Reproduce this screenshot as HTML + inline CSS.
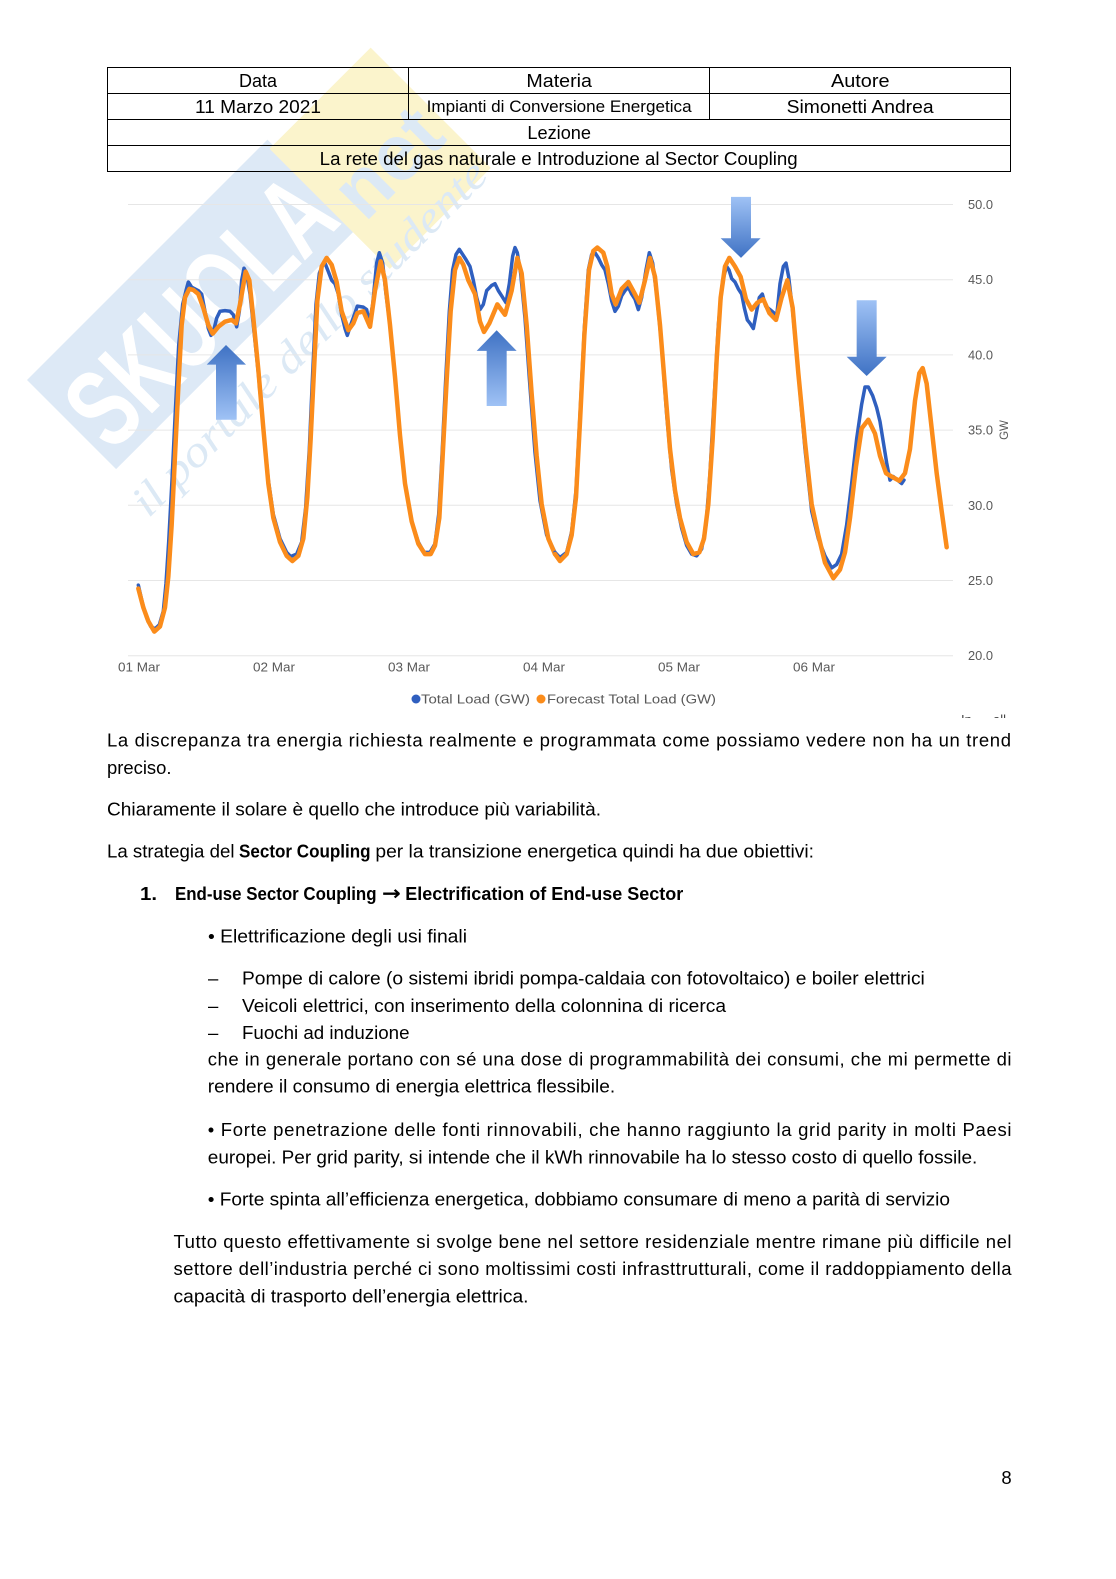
<!DOCTYPE html>
<html><head><meta charset="utf-8">
<style>html,body{margin:0;padding:0;background:#fff}svg{display:block}</style>
</head><body>
<svg width="1116" height="1579" viewBox="0 0 1116 1579" xmlns="http://www.w3.org/2000/svg" font-family="'Liberation Sans', sans-serif">
<defs>
<linearGradient id="gUp" x1="0" y1="0" x2="0" y2="1"><stop offset="0" stop-color="#3f72c4"/><stop offset="1" stop-color="#9fc2f5"/></linearGradient>
<linearGradient id="gDn" x1="0" y1="0" x2="0" y2="1"><stop offset="0" stop-color="#9fc2f5"/><stop offset="1" stop-color="#3f72c4"/></linearGradient>
<clipPath id="cl"><rect x="940" y="705" width="80" height="13"/></clipPath>
</defs>
<rect width="1116" height="1579" fill="#fff"/>

<!-- watermark -->
<g transform="translate(27,380) rotate(-45)">
  <rect x="0" y="0" width="340" height="126" fill="#dde9f6"/>
  <rect x="335" y="8" width="143" height="170" fill="#fbf4cc"/>
  <text x="8" y="112" font-size="112" font-weight="bold" fill="#ffffff" textLength="327" lengthAdjust="spacingAndGlyphs">SKUOLA</text>
  <text x="350" y="128" font-size="80" font-weight="bold" fill="#dce9f5" textLength="118" lengthAdjust="spacingAndGlyphs">net</text>
  <text x="-12" y="184" font-size="44" font-style="italic" font-family="'Liberation Serif', serif" fill="#dce9f5" textLength="483" lengthAdjust="spacingAndGlyphs">il portale dello studente</text>
</g>

<!-- table -->
<g stroke="#000" stroke-width="1" fill="none">
  <rect x="107.5" y="67.5" width="903" height="104"/>
  <line x1="107.5" y1="93.5" x2="1010.5" y2="93.5"/>
  <line x1="107.5" y1="119.5" x2="1010.5" y2="119.5"/>
  <line x1="107.5" y1="145.5" x2="1010.5" y2="145.5"/>
  <line x1="408.5" y1="67.5" x2="408.5" y2="119.5"/>
  <line x1="709.5" y1="67.5" x2="709.5" y2="119.5"/>
</g>
<g font-size="18.5" fill="#000">
  <text x="239" y="86.8" textLength="38" lengthAdjust="spacingAndGlyphs">Data</text>
  <text x="526.4" y="86.8" textLength="65.6" lengthAdjust="spacingAndGlyphs">Materia</text>
  <text x="831" y="86.8" textLength="58.5" lengthAdjust="spacingAndGlyphs">Autore</text>
  <text x="195" y="112.8" textLength="126" lengthAdjust="spacingAndGlyphs">11 Marzo 2021</text>
  <text x="426.6" y="112" font-size="16.5" textLength="265" lengthAdjust="spacingAndGlyphs">Impianti di Conversione Energetica</text>
  <text x="786.6" y="112.8" textLength="147" lengthAdjust="spacingAndGlyphs">Simonetti Andrea</text>
  <text x="527.4" y="139" textLength="63.6" lengthAdjust="spacingAndGlyphs">Lezione</text>
  <text x="319.7" y="165" textLength="478" lengthAdjust="spacingAndGlyphs">La rete del gas naturale e Introduzione al Sector Coupling</text>
</g>

<!-- chart gridlines -->
<g stroke="#e6e6e6" stroke-width="1">
  <line x1="128" y1="204.5" x2="953" y2="204.5"/>
  <line x1="128" y1="279.7" x2="953" y2="279.7"/>
  <line x1="128" y1="354.9" x2="953" y2="354.9"/>
  <line x1="128" y1="430.1" x2="953" y2="430.1"/>
  <line x1="128" y1="505.3" x2="953" y2="505.3"/>
  <line x1="128" y1="580.5" x2="953" y2="580.5"/>
  <line x1="128" y1="655.7" x2="953" y2="655.7"/>
</g>
<g font-size="12.5" fill="#595959">
  <text x="968" y="209" textLength="25" lengthAdjust="spacingAndGlyphs">50.0</text>
  <text x="968" y="284.2" textLength="25" lengthAdjust="spacingAndGlyphs">45.0</text>
  <text x="968" y="359.4" textLength="25" lengthAdjust="spacingAndGlyphs">40.0</text>
  <text x="968" y="434.6" textLength="25" lengthAdjust="spacingAndGlyphs">35.0</text>
  <text x="968" y="509.8" textLength="25" lengthAdjust="spacingAndGlyphs">30.0</text>
  <text x="968" y="585" textLength="25" lengthAdjust="spacingAndGlyphs">25.0</text>
  <text x="968" y="660.2" textLength="25" lengthAdjust="spacingAndGlyphs">20.0</text>
  <text transform="translate(1008,430) rotate(-90)" text-anchor="middle" font-size="11.5">GW</text>
  <text x="118" y="671.5" textLength="42" lengthAdjust="spacingAndGlyphs">01 Mar</text>
  <text x="253" y="671.5" textLength="42" lengthAdjust="spacingAndGlyphs">02 Mar</text>
  <text x="388" y="671.5" textLength="42" lengthAdjust="spacingAndGlyphs">03 Mar</text>
  <text x="523" y="671.5" textLength="42" lengthAdjust="spacingAndGlyphs">04 Mar</text>
  <text x="658" y="671.5" textLength="42" lengthAdjust="spacingAndGlyphs">05 Mar</text>
  <text x="793" y="671.5" textLength="42" lengthAdjust="spacingAndGlyphs">06 Mar</text>
  <circle cx="416" cy="699" r="4.5" fill="#2f5fbf"/>
  <text x="421" y="703.5" textLength="109" lengthAdjust="spacingAndGlyphs">Total Load (GW)</text>
  <circle cx="541" cy="699" r="4.5" fill="#fb8c1b"/>
  <text x="547" y="703.5" textLength="169" lengthAdjust="spacingAndGlyphs">Forecast Total Load (GW)</text>
  <g clip-path="url(#cl)"><text x="961" y="724" font-size="13" fill="#444">In</text><text x="993" y="724" font-size="13" fill="#444">all</text></g>
</g>

<!-- series, zoom-2 frame -->
<g transform="translate(100,180.4) scale(0.33333,0.34443)" fill="none" stroke-linejoin="round" stroke-linecap="round">
  <polyline vector-effect="non-scaling-stroke" stroke="#2f5fbf" stroke-width="3.5" points="115,1175 128,1230 140,1270 152,1295 165,1302 178,1290 190,1250 198,1170 206,1050 216,870 226,670 236,480 248,360 258,320 265,295 275,310 285,315 295,320 305,330 315,380 325,430 333,450 340,440 350,400 360,380 375,378 390,380 400,390 410,425 418,380 425,290 432,255 440,270 450,330 460,420 475,560 490,720 505,870 520,970 540,1040 560,1080 572,1092 590,1085 605,1050 617,950 628,780 638,560 648,360 658,270 668,245 675,240 685,265 695,290 705,300 715,330 725,390 735,430 742,450 752,420 765,385 772,365 790,368 800,375 808,415 818,360 830,240 838,210 848,240 858,330 870,420 885,570 900,740 915,880 935,990 955,1050 972,1080 990,1080 1005,1055 1016,970 1026,800 1037,580 1048,380 1058,260 1068,215 1078,200 1088,215 1098,230 1110,250 1120,290 1130,340 1140,375 1150,360 1160,320 1175,305 1185,300 1195,320 1205,335 1218,355 1228,300 1238,220 1245,195 1252,210 1262,270 1275,400 1290,600 1305,790 1320,930 1340,1030 1365,1080"/>
  <polyline vector-effect="non-scaling-stroke" stroke="#fb8c1b" stroke-width="4.5" points="115,1185 130,1240 145,1280 163,1310 180,1295 195,1240 205,1150 215,1000 225,800 235,600 245,420 255,340 268,315 280,318 295,330 310,370 325,420 338,445 355,425 375,410 395,405 408,415 420,360 437,265 448,290 460,400 475,550 490,720 505,880 520,980 540,1050 560,1090 577,1105 595,1090 610,1040 622,920 632,750 642,550 652,350 665,250 680,225 695,245 710,295 725,380 745,435 760,415 772,385 790,380 810,425 825,320 842,235 855,290 870,420 885,570 900,740 915,880 935,990 955,1055 975,1085 992,1085 1005,1060 1018,980 1028,800 1040,580 1052,380 1065,260 1078,225 1090,245 1105,290 1125,330 1140,410 1152,440 1168,415 1192,360 1215,390 1235,320 1252,225 1265,270 1280,420 1295,620 1310,800 1325,940 1345,1040 1365,1085"/>
  <polygon fill="url(#gUp)" points="378,478 438,535 410,535 410,695 348,695 348,535 320,535"/>
  <polygon fill="url(#gUp)" points="1190,435 1250,495 1220,495 1220,655 1160,655 1160,495 1130,495"/>
</g>
<!-- series, zoom-3 frame -->
<g transform="translate(550,180.4) scale(0.33333,0.34443)" fill="none" stroke-linejoin="round" stroke-linecap="round">
  <polyline vector-effect="non-scaling-stroke" stroke="#2f5fbf" stroke-width="3.5" points="15,1080 30,1095 50,1080 65,1020 78,900 90,680 103,430 115,260 125,215 135,210 145,225 155,245 165,260 175,300 185,350 195,380 205,365 215,335 225,320 235,310 245,330 255,345 265,375 275,340 288,260 298,210 308,240 320,330 335,480 350,680 365,840 380,940 395,1010 410,1060 425,1085 440,1090 455,1070 468,1000 480,850 492,640 505,420 518,290 530,250 537,260 545,285 555,295 565,315 575,330 583,370 592,405 600,415 610,430 618,390 628,340 637,330 647,365 660,375 672,385 680,395 690,300 700,250 708,240 716,280 728,380 745,560 765,780 785,960 805,1040 825,1090 845,1125 860,1115 875,1085 890,1000 905,880 920,750 935,650 945,600 955,600 968,625 980,660 990,700 1000,760 1010,820 1020,870 1030,860 1042,870 1055,880 1062,870"/>
  <polyline vector-effect="non-scaling-stroke" stroke="#fb8c1b" stroke-width="4.5" points="15,1085 30,1105 50,1085 65,1030 78,920 90,700 103,450 117,260 130,205 142,195 160,210 172,250 185,330 197,360 215,315 235,295 252,325 268,355 285,290 300,225 315,280 330,420 345,600 360,780 375,900 390,980 410,1050 430,1085 448,1080 462,1040 475,940 488,750 500,520 512,340 525,250 538,225 555,250 572,280 588,345 605,375 622,355 640,345 658,385 678,405 695,340 712,290 728,370 745,560 765,760 785,940 805,1030 825,1110 850,1155 870,1130 885,1080 900,980 918,830 935,720 955,695 975,735 990,800 1008,850 1025,860 1048,872 1065,850 1080,780 1095,640 1108,560 1118,545 1130,590 1145,720 1160,850 1175,960 1190,1065"/>
  <polygon fill="url(#gDn)" points="543,48 603,48 603,168 632,168 573,225 512,168 543,168"/>
  <polygon fill="url(#gDn)" points="920,348 980,348 980,512 1010,512 950,568 890,512 920,512"/>
</g>

<!-- body text -->
<g font-size="18.5" fill="#000">
  <text x="107" y="746.5" textLength="904" lengthAdjust="spacing">La discrepanza tra energia richiesta realmente e programmata come possiamo vedere non ha un trend</text>
  <text x="107" y="774" textLength="64.5" lengthAdjust="spacingAndGlyphs">preciso.</text>
  <text x="107" y="815.5" textLength="494" lengthAdjust="spacingAndGlyphs">Chiaramente il solare è quello che introduce più variabilità.</text>
  <text x="107" y="857.5" textLength="127.5" lengthAdjust="spacingAndGlyphs">La strategia del</text>
  <text x="239" y="857.5" font-weight="bold" textLength="131.6" lengthAdjust="spacingAndGlyphs">Sector Coupling</text>
  <text x="375.4" y="857.5" textLength="438.6" lengthAdjust="spacingAndGlyphs">per la transizione energetica quindi ha due obiettivi:</text>
  <text x="140" y="900" font-weight="bold" textLength="17" lengthAdjust="spacingAndGlyphs">1.</text>
  <text x="175" y="900" font-weight="bold" textLength="201.5" lengthAdjust="spacingAndGlyphs">End-use Sector Coupling</text>
  <text x="382" y="900" font-family="'DejaVu Sans', sans-serif" font-size="20" font-weight="bold" textLength="19" lengthAdjust="spacingAndGlyphs">→</text>
  <text x="405.3" y="900" font-weight="bold" textLength="278" lengthAdjust="spacingAndGlyphs">Electrification of End-use Sector</text>
  <text x="208" y="942.5" textLength="259" lengthAdjust="spacingAndGlyphs">• Elettrificazione degli usi finali</text>
  <text x="208" y="984.5">–</text>
  <text x="242" y="984.5" textLength="682.8" lengthAdjust="spacingAndGlyphs">Pompe di calore (o sistemi ibridi pompa-caldaia con fotovoltaico) e boiler elettrici</text>
  <text x="208" y="1012">–</text>
  <text x="242" y="1012" textLength="484" lengthAdjust="spacingAndGlyphs">Veicoli elettrici, con inserimento della colonnina di ricerca</text>
  <text x="208" y="1039">–</text>
  <text x="242" y="1039" textLength="167.5" lengthAdjust="spacingAndGlyphs">Fuochi ad induzione</text>
  <text x="207.8" y="1065.5" textLength="803.7" lengthAdjust="spacing">che in generale portano con sé una dose di programmabilità dei consumi, che mi permette di</text>
  <text x="207.8" y="1092.5" textLength="407.4" lengthAdjust="spacingAndGlyphs">rendere il consumo di energia elettrica flessibile.</text>
  <text x="207.8" y="1136" textLength="803.7" lengthAdjust="spacing">• Forte penetrazione delle fonti rinnovabili, che hanno raggiunto la grid parity in molti Paesi</text>
  <text x="207.8" y="1163.5" textLength="769.5" lengthAdjust="spacingAndGlyphs">europei. Per grid parity, si intende che il kWh rinnovabile ha lo stesso costo di quello fossile.</text>
  <text x="207.8" y="1205.5" textLength="742.2" lengthAdjust="spacingAndGlyphs">• Forte spinta all’efficienza energetica, dobbiamo consumare di meno a parità di servizio</text>
  <text x="173.5" y="1248" textLength="838" lengthAdjust="spacing">Tutto questo effettivamente si svolge bene nel settore residenziale mentre rimane più difficile nel</text>
  <text x="173.5" y="1275" textLength="838" lengthAdjust="spacing">settore dell’industria perché ci sono moltissimi costi infrasttrutturali, come il raddoppiamento della</text>
  <text x="173.5" y="1302.5" textLength="355" lengthAdjust="spacingAndGlyphs">capacità di trasporto dell’energia elettrica.</text>
  <text x="1006.5" y="1484" text-anchor="middle">8</text>
</g>
</svg>
</body></html>
